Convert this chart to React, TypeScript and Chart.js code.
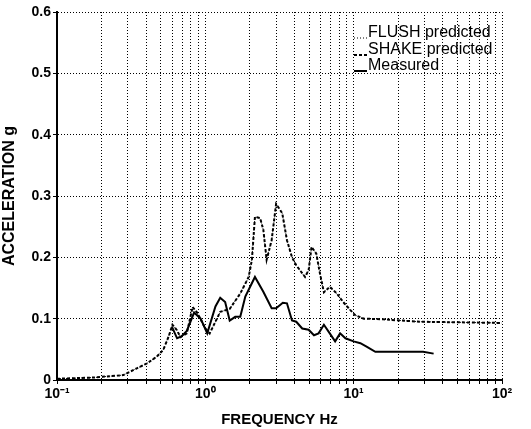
import React, { useEffect, useRef } from "react";
import { Chart, registerables } from "chart.js";

Chart.register(...registerables);

const shakeFreq = [0.1, 0.177, 0.28, 0.345, 0.404, 0.47, 0.52, 0.566, 0.6, 0.64, 0.68, 0.75, 0.82, 0.88, 1.0, 1.07, 1.26, 1.46, 1.72, 1.96, 2.06, 2.16, 2.34, 2.46, 2.59, 2.8, 3.0, 3.3, 3.55, 3.84, 4.1, 4.7, 4.97, 5.2, 5.6, 5.9, 6.3, 6.9, 7.7, 8.5, 9.5, 10.2, 11.7, 15.8, 20.6, 27.9, 100];
const shakeValues = [0.002, 0.004, 0.008, 0.019, 0.027, 0.038, 0.049, 0.071, 0.09, 0.082, 0.07, 0.076, 0.119, 0.11, 0.084, 0.076, 0.111, 0.116, 0.141, 0.168, 0.196, 0.266, 0.264, 0.245, 0.196, 0.228, 0.287, 0.272, 0.228, 0.2, 0.187, 0.168, 0.179, 0.217, 0.206, 0.176, 0.143, 0.152, 0.141, 0.127, 0.114, 0.106, 0.1, 0.099, 0.097, 0.095, 0.093];

const flushFreq = shakeFreq.slice();
const flushValues = shakeValues.slice();

const measuredFreq = [0.595, 0.645, 0.69, 0.75, 0.84, 0.93, 1.03, 1.17, 1.26, 1.36, 1.46, 1.59, 1.72, 1.86, 2.16, 2.46, 2.8, 3.0, 3.33, 3.55, 3.84, 4.1, 4.5, 4.97, 5.4, 5.8, 6.3, 6.9, 7.5, 8.1, 8.8, 10.0, 11.1, 12.3, 14.0, 20.6, 29.4, 34.6];
const measuredValues = [0.087, 0.068, 0.071, 0.08, 0.11, 0.1, 0.076, 0.12, 0.134, 0.127, 0.097, 0.103, 0.103, 0.136, 0.168, 0.144, 0.117, 0.117, 0.126, 0.125, 0.097, 0.095, 0.084, 0.082, 0.073, 0.076, 0.09, 0.076, 0.063, 0.076, 0.068, 0.063, 0.06, 0.054, 0.046, 0.046, 0.046, 0.043];

const xTickValues = [0.1, 1, 10, 100];
const xTickLabels = ["10\u207B\u00B9", "10\u2070", "10\u00B9", "10\u00B2"];
const yTickLabels = ["0", "0.1", "0.2", "0.3", "0.4", "0.5", "0.6"];

const legendNames = ["FLUSH predicted", "SHAKE predicted", "Measured"];

const toPts = (xs: number[], ys: number[]) => xs.map((x, i) => ({ x, y: ys[i] }));

const legendPlugin = {
  id: "insideLegend",
  afterDatasetsDraw(chart: any) {
    const ctx = chart.ctx;
    const area = chart.chartArea;
    const x0 = area.left + 297;
    const rows = [area.top + 21, area.top + 38, area.top + 54];
    const dashes = [[1, 2], [3, 2], []];
    const widths = [1, 2, 2];
    ctx.save();
    ctx.font = "16px 'Liberation Sans', Arial, sans-serif";
    ctx.textBaseline = "middle";
    ctx.textAlign = "left";
    rows.forEach((y, i) => {
      ctx.strokeStyle = "#000";
      ctx.lineWidth = widths[i];
      ctx.setLineDash(dashes[i]);
      ctx.beginPath();
      ctx.moveTo(x0, y + 5);
      ctx.lineTo(x0 + 13, y + 5);
      ctx.stroke();
      ctx.setLineDash([]);
      ctx.fillStyle = "#000";
      ctx.fillText(legendNames[i], x0 + 14, y);
    });
    ctx.restore();
  },
};

export default function App() {
  const ref = useRef<HTMLCanvasElement>(null);
  useEffect(() => {
    document.body.style.margin = "0";
    const chart = new Chart(ref.current as HTMLCanvasElement, {
      type: "scatter",
      data: {
        datasets: [
          {
            label: legendNames[0],
            data: toPts(flushFreq, flushValues),
            showLine: true,
            borderColor: "#000",
            borderWidth: 1,
            borderDash: [1, 2],
            pointRadius: 0,
            tension: 0,
          },
          {
            label: legendNames[1],
            data: toPts(shakeFreq, shakeValues),
            showLine: true,
            borderColor: "#000",
            borderWidth: 2,
            borderDash: [3, 2],
            pointRadius: 0,
            tension: 0,
          },
          {
            label: legendNames[2],
            data: toPts(measuredFreq, measuredValues),
            showLine: true,
            borderColor: "#000",
            borderWidth: 2,
            pointRadius: 0,
            tension: 0,
          },
        ],
      },
      options: {
        animation: false,
        responsive: false,
        layout: { padding: { left: 0, top: 12, right: 29, bottom: 0 } },
        plugins: { legend: { display: false }, tooltip: { enabled: false } },
        scales: {
          x: {
            type: "logarithmic",
            min: 0.1,
            max: 100,
            afterFit: (s: any) => { s.height = 49; },
            afterBuildTicks: (s: any) => {
              const t: any[] = [];
              for (let d = -1; d < 2; d++) {
                for (let m = 1; m < 10; m++) t.push({ value: m * Math.pow(10, d) });
              }
              t.push({ value: 100 });
              s.ticks = t;
            },
            ticks: {
              autoSkip: false,
              maxRotation: 0,
              color: "#000",
              padding: 2,
              font: { family: "'Liberation Sans', Arial, sans-serif", size: 14, weight: "bold" },
              callback: (v: any) => {
                const idx = xTickValues.findIndex((t) => Math.abs(t - v) / t < 1e-6);
                return idx >= 0 ? xTickLabels[idx] : "";
              },
            },
            grid: {
              color: "#000",
              lineWidth: 1,
              tickLength: 4,
              tickColor: "#000",
              tickBorderDash: [],
            } as any,
            border: { color: "#000", width: 2, dash: [1, 2] } as any,
            title: {
              display: true,
              text: "FREQUENCY Hz",
              color: "#000",
              padding: { top: 2, bottom: 0 },
              font: { family: "'Liberation Sans', Arial, sans-serif", size: 15, weight: "bold" },
            },
          },
          y: {
            min: 0,
            max: 0.6,
            afterFit: (s: any) => { s.width = 57; },
            ticks: {
              stepSize: 0.1,
              color: "#000",
              padding: 2,
              font: { family: "'Liberation Sans', Arial, sans-serif", size: 14, weight: "bold" },
              callback: (v: any) => yTickLabels[Math.round(Number(v) * 10)],
            },
            grid: { color: "#000", lineWidth: 1, tickLength: 4, tickColor: "#000", tickBorderDash: [] } as any,
            border: { color: "#000", width: 2, dash: [1, 2] } as any,
            title: {
              display: true,
              text: "ACCELERATION g",
              color: "#000",
              padding: { top: 0, bottom: 2 },
              font: { family: "'Liberation Sans', Arial, sans-serif", size: 16, weight: "bold" },
            },
          },
        },
      } as any,
      plugins: [legendPlugin],
    });
    return () => chart.destroy();
  }, []);
  return (
    <div style={{ width: 531, height: 429, background: "#fff" }}>
      <canvas ref={ref} width={531} height={429} />
    </div>
  );
}
